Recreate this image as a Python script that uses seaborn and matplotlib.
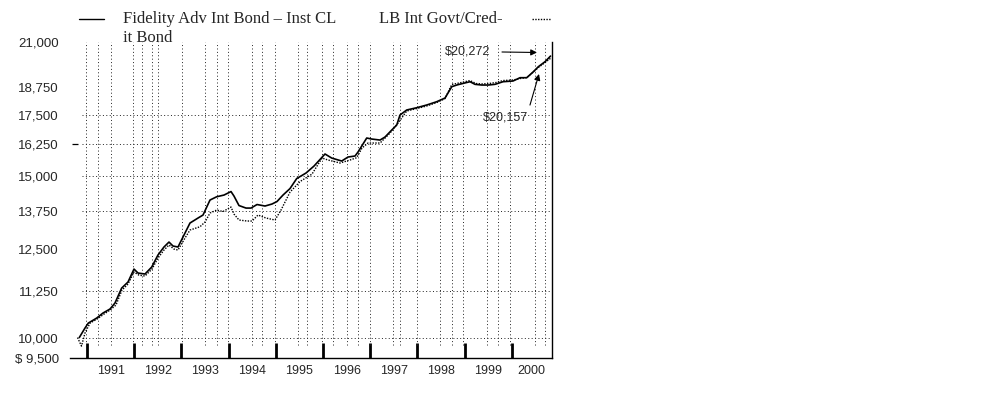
import matplotlib
matplotlib.use("Agg")
import matplotlib.pyplot as plt
from matplotlib.lines import Line2D
from matplotlib.ticker import FixedLocator, NullLocator
import seaborn as sns
import pandas as pd

# growth of $10,000 (decimal years)
fund_dates = [1990.837, 1990.958, 1991.028, 1991.206, 1991.339, 1991.487, 1991.593, 1991.735,
              1991.869, 1991.996, 1992.081, 1992.229, 1992.371, 1992.504, 1992.631, 1992.737,
              1992.822, 1992.928, 1993.076, 1993.182, 1993.352, 1993.458, 1993.606, 1993.748,
              1993.903, 1994.051, 1994.114, 1994.220, 1994.369, 1994.475, 1994.602, 1994.771,
              1994.919, 1995.025, 1995.153, 1995.301, 1995.443, 1995.640, 1995.809, 1996.042,
              1996.184, 1996.396, 1996.530, 1996.678, 1996.742, 1996.926, 1997.032, 1997.208,
              1997.314, 1997.456, 1997.562, 1997.631, 1997.773, 1997.985, 1998.197, 1998.409,
              1998.585, 1998.727, 1998.833, 1998.973, 1999.114, 1999.220, 1999.362, 1999.502,
              1999.644, 1999.814, 2000.025, 2000.174, 2000.316, 2000.456, 2000.562, 2000.703,
              2000.820]
fund_values = [10000, 10242, 10370, 10502, 10635, 10742, 10905, 11323,
               11496, 11876, 11758, 11729, 11936, 12302, 12552, 12709,
               12583, 12552, 12999, 13331, 13499, 13601, 14123, 14240,
               14301, 14427, 14265, 13929, 13841, 13841, 13965, 13912,
               13982, 14070, 14301, 14536, 14906, 15114, 15380, 15853,
               15693, 15576, 15733, 15773, 15933, 16502, 16460, 16418,
               16544, 16836, 17050, 17483, 17705, 17806, 17928, 18077,
               18245, 18770, 18850, 18931, 19007, 18883, 18850, 18850,
               18883, 19007, 19041, 19200, 19200, 19490, 19738, 19986,
               20272]

index_dates = [1990.800, 1990.883, 1990.958, 1991.064, 1991.212, 1991.360, 1991.487, 1991.614,
               1991.742, 1991.869, 1991.996, 1992.100, 1992.229, 1992.377, 1992.504, 1992.631,
               1992.737, 1992.843, 1992.928, 1993.076, 1993.182, 1993.394, 1993.500, 1993.606,
               1993.748, 1993.881, 1994.051, 1994.114, 1994.220, 1994.390, 1994.496, 1994.623,
               1994.792, 1994.983, 1995.110, 1995.301, 1995.513, 1995.767, 1995.979, 1996.106,
               1996.360, 1996.572, 1996.714, 1996.826, 1996.953, 1997.208, 1997.420, 1997.590,
               1997.773, 1997.985, 1998.197, 1998.409, 1998.585, 1998.727, 1998.833, 1998.973,
               1999.114, 1999.240, 1999.369, 1999.520, 1999.665, 1999.814, 2000.025, 2000.174,
               2000.320, 2000.456, 2000.562, 2000.703, 2000.820]
index_values = [10000, 9789, 10114, 10370, 10475, 10607, 10714, 10850,
                11266, 11437, 11787, 11697, 11670, 11876, 12207, 12457,
                12615, 12487, 12457, 12837, 13098, 13207, 13364, 13669,
                13772, 13721, 13877, 13635, 13432, 13398, 13398, 13601,
                13499, 13432, 13772, 14408, 14794, 15073, 15693, 15616,
                15498, 15616, 15706, 16092, 16296, 16296, 16710, 17136,
                17659, 17770, 17884, 18041, 18220, 18875, 18923, 18992,
                19064, 18923, 18900, 18923, 18969, 19064, 19089, 19160,
                19209, 19475, 19698, 19946, 20157]

years = [1991, 1992, 1993, 1994, 1995, 1996, 1997, 1998, 1999, 2000]
year_label_pos = [1991.5, 1992.5, 1993.5, 1994.5, 1995.5, 1996.5, 1997.5, 1998.5, 1999.5, 2000.42]
y_ticks = [9500, 10000, 11250, 12500, 13750, 15000, 16250, 17500, 18750, 21000]
y_labels = ["$ 9,500", "10,000", "11,250", "12,500", "13,750", "15,000",
            "16,250", "17,500", "18,750", "21,000"]
h_grid = [10000, 11250, 13750, 15000, 16250, 17500]
v_grid = [1990.98, 1991.227, 1991.508, 1991.975, 1992.159, 1992.371, 1992.504, 1993.006,
          1993.5, 1993.748, 1993.987, 1994.489, 1994.701, 1994.983, 1995.47, 1995.655,
          1995.972, 1996.212, 1996.502, 1996.742, 1996.996, 1997.483, 1997.631, 1997.985,
          1998.479, 1998.727, 1998.966, 1999.468, 1999.708, 1999.962, 2000.492, 2000.703]

sns.set_style("white")
plt.rcParams['font.family'] = ['Liberation Sans', 'DejaVu Sans']

fund = pd.DataFrame({'date': fund_dates, 'value': fund_values})
index = pd.DataFrame({'date': index_dates, 'value': index_values})

fig = plt.figure(figsize=(9.83, 3.94), dpi=100)
ax = fig.add_axes([0.0712, 0.0914, 0.4903, 0.802])
ax.set_yscale('log')

grid_style = dict(color='#222222', linewidth=0.7, linestyle=(0, (1, 2.5)), zorder=1)
ax.hlines(h_grid, 1990.894, 2000.85, **grid_style)
ax.vlines(v_grid, 9810, 21000, **grid_style)
# little dash at the 16,250 line
ax.hlines(16250, 1990.68, 1990.81, color='black', linewidth=0.9, clip_on=False)

sns.lineplot(data=index, x='date', y='value', ax=ax, color='black',
             linewidth=1.0, linestyle=(0, (1, 1)), zorder=3)
sns.lineplot(data=fund, x='date', y='value', ax=ax, color='black',
             linewidth=1.2, zorder=4)

ax.set_xlim(1990.64, 2000.85)
ax.set_ylim(9500, 21000)
ax.set_xlabel('')
ax.set_ylabel('')

ax.yaxis.set_major_locator(FixedLocator(y_ticks))
ax.yaxis.set_minor_locator(NullLocator())
ax.set_yticklabels(y_labels)
ax.tick_params(axis='y', length=0, pad=8, labelsize=9.5)

ax.set_xticks(years)
ax.set_xticklabels([])
ax.set_xticks(year_label_pos, minor=True)
ax.set_xticklabels([str(y) for y in years], minor=True)
ax.tick_params(axis='x', which='major', bottom=True, direction='in',
               length=11, width=2, color='black')
ax.tick_params(axis='x', which='minor', bottom=True, length=0, pad=5, labelsize=9)

for s in ['top', 'left']:
    ax.spines[s].set_visible(False)
for s in ['bottom', 'right']:
    ax.spines[s].set_color('black')
    ax.spines[s].set_linewidth(1.0)

# legend drawn by hand to keep the odd wrapped layout
serif = dict(family='Liberation Serif', size=12, va='center', ha='left')
fig.text(123 / 983, 1 - 19 / 394, "Fidelity Adv Int Bond \u2013 Inst CL", **serif)
fig.text(379 / 983, 1 - 19 / 394, "LB Int Govt/Cred-", **serif)
fig.text(123 / 983, 1 - 38 / 394, "it Bond", **serif)
fig.add_artist(Line2D([79 / 983, 104 / 983], [1 - 19 / 394] * 2, color='black',
                      linewidth=1.0, transform=fig.transFigure))
fig.add_artist(Line2D([532 / 983, 551 / 983], [1 - 19 / 394] * 2, color='black',
                      linewidth=1.0, linestyle=(0, (1, 1)), transform=fig.transFigure))

arrow = dict(arrowstyle='-|>', color='black', lw=0.8, mutation_scale=9, shrinkA=6, shrinkB=0)
ax.annotate("$20,272", xy=(537, 394 - 52.5), xycoords='figure pixels',
            xytext=(445, 394 - 51.5), textcoords='figure pixels',
            ha='left', va='center', fontsize=9, arrowprops=arrow)
ax.annotate("$20,157", xy=(539, 394 - 74), xycoords='figure pixels',
            xytext=(483, 394 - 117), textcoords='figure pixels',
            ha='left', va='center', fontsize=9,
            arrowprops=dict(arrow, shrinkA=2, relpos=(1, 1)))

fig.savefig('out.png', dpi=100)
